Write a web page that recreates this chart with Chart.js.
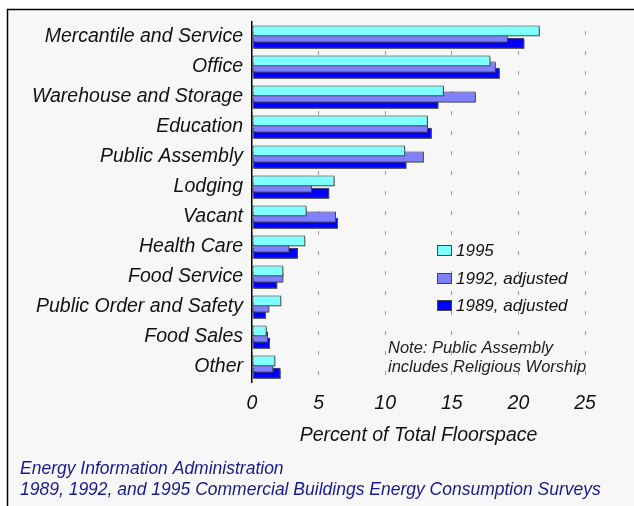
<!DOCTYPE html>
<html>
<head>
<meta charset="utf-8">
<script src="https://cdn.jsdelivr.net/npm/chart.js@4"></script>
<style>
  html, body { margin: 0; padding: 0; background: #fff; }
  #wrap { position: relative; width: 634px; height: 506px; }
</style>
</head>
<body>
<div id="wrap"><canvas id="floorChart" width="634" height="506"></canvas></div>
<script>
// building types, top to bottom
const categories = [
  'Mercantile and Service', 'Office', 'Warehouse and Storage', 'Education',
  'Public Assembly', 'Lodging', 'Vacant', 'Health Care', 'Food Service',
  'Public Order and Safety', 'Food Sales', 'Other'
];
const pct1995 = [21.6, 17.9, 14.4, 13.2, 11.5, 6.2, 4.1, 4.0, 2.35, 2.2, 1.1, 1.75];
const pct1992 = [19.2, 18.3, 16.8, 13.2, 12.9, 4.5, 6.3, 2.8, 2.35, 1.3, 1.2, 1.6];
const pct1989 = [20.45, 18.6, 14.0, 13.5, 11.6, 5.8, 6.45, 3.45, 1.9, 1.05, 1.35, 2.15];
const seriesLabels = ['1995', '1992, adjusted', '1989, adjusted'];
const xTicks = [0, 5, 10, 15, 20, 25];
const noteLines = ['Note: Public Assembly', 'includes Religious Worship'];
const sourceLines = [
  'Energy Information Administration',
  '1989, 1992, and 1995 Commercial Buildings Energy Consumption Surveys'
];

const FONT = '"Liberation Sans", Arial, sans-serif';
const colors = ['#80ffff', '#8080ff', '#0000ff'];

// frame + panel background behind everything
const framePlugin = {
  id: 'frame',
  beforeDraw(chart) {
    const c = chart.ctx;
    c.save();
    c.fillStyle = '#f7f7f7';
    c.fillRect(8, 9, 640, 510);
    c.strokeStyle = '#000';
    c.lineWidth = 1.5;
    c.strokeRect(7.5, 9.5, 640, 510);
    c.restore();
  }
};

// gray drop shadow under the bars
const shadowPlugin = {
  id: 'barShadow',
  beforeDatasetsDraw(chart) {
    const c = chart.ctx;
    c.save();
    c.shadowColor = 'rgba(80,80,80,0.9)';
    c.shadowOffsetX = 2;
    c.shadowOffsetY = 2;
    c.shadowBlur = 0;
  },
  afterDatasetsDraw(chart) {
    chart.ctx.restore();
  }
};

// legend, note and source text
const textPlugin = {
  id: 'extraText',
  afterDraw(chart) {
    const c = chart.ctx;
    c.save();
    c.textBaseline = 'middle';
    c.textAlign = 'left';
    const ly = [250, 278, 305];
    seriesLabels.forEach((lbl, i) => {
      c.fillStyle = colors[i];
      c.fillRect(437, ly[i] - 5, 15, 11);
      c.strokeStyle = '#444';
      c.lineWidth = 1;
      c.strokeRect(437.5, ly[i] - 4.5, 14, 10);
      c.fillStyle = '#111';
      c.font = 'italic 17px ' + FONT;
      c.fillText(lbl, 456, ly[i] + 1);
    });
    c.font = 'italic 16.5px ' + FONT;
    c.fillStyle = '#222';
    noteLines.forEach((t, i) => c.fillText(t, 388, 348 + i * 19));
    c.fillStyle = '#1a1a8c';
    c.font = 'italic 17.5px ' + FONT;
    sourceLines.forEach((t, i) => c.fillText(t, 20, 469 + i * 21));
    c.restore();
  }
};

new Chart(document.getElementById('floorChart'), {
  type: 'bar',
  data: {
    labels: categories,
    datasets: [pct1995, pct1992, pct1989].map((d, i) => ({
      label: seriesLabels[i],
      data: d,
      backgroundColor: colors[i],
      borderColor: '#222',
      borderWidth: 1,
      borderSkipped: false,
      categoryPercentage: 0.62,
      barPercentage: 1.75,
    })),
  },
  options: {
    indexAxis: 'y',
    responsive: false,
    animation: false,
    layout: { padding: { left: 0, right: 49, top: 22, bottom: 57 } },
    plugins: {
      legend: { display: false },
      tooltip: { enabled: false },
    },
    scales: {
      y: {
        afterFit: s => { s.width = 252; },
        grid: { display: false, drawTicks: false },
        border: { display: true, color: '#000', width: 1.5 },
        ticks: {
          color: '#111',
          padding: 9,
          font: { family: FONT, size: 19.5, style: 'italic' },
        },
      },
      x: {
        min: 0,
        max: 25,
        afterFit: s => { s.height = 67; },
        afterBuildTicks: s => { s.ticks = xTicks.map(v => ({ value: v })); },
        border: { display: false, dash: [4, 16], dashOffset: 11 },
        grid: {
          drawTicks: false,
          color: ctx => (ctx.tick && ctx.tick.value === 0 ? 'rgba(0,0,0,0)' : '#999'),
          lineWidth: 1,
        },
        ticks: {
          color: '#111',
          padding: 10,
          font: { family: FONT, size: 19.5, style: 'italic' },
        },
        title: {
          display: true,
          text: 'Percent of Total Floorspace',
          color: '#111',
          padding: { top: 0, bottom: 2 },
          font: { family: FONT, size: 19.5, style: 'italic' },
        },
      },
    },
  },
  plugins: [framePlugin, shadowPlugin, textPlugin],
});
</script>
</body>
</html>
